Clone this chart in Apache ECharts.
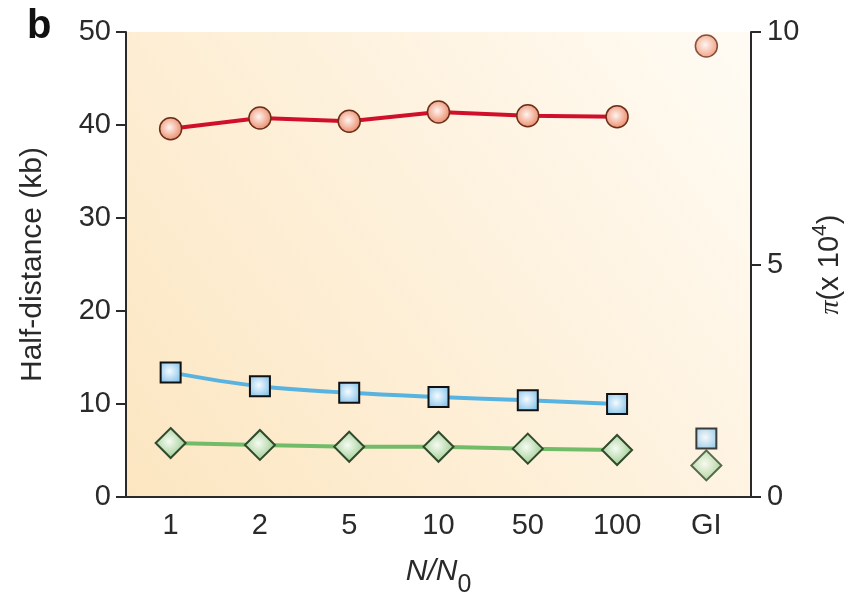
<!DOCTYPE html>
<html><head><meta charset="utf-8">
<script src="https://cdn.jsdelivr.net/npm/echarts@6/dist/echarts.min.js"></script>
<style>html,body{margin:0;padding:0;background:#fff}#c{width:852px;height:593px}</style>
</head><body><div id="c"></div>
<script>
const categories = ['1','2','5','10','50','100','GI'];
const redLine   = [39.6, 40.75, 40.4, 41.4, 41.0, 40.9, '-'];
const redGI     = ['-','-','-','-','-','-', 48.5];
const blueLine  = [13.4, 11.9, 11.2, 10.75, 10.4, 10.0, '-'];
const blueGI    = ['-','-','-','-','-','-', 6.3];
const greenLine = [5.8, 5.6, 5.4, 5.4, 5.2, 5.05, '-'];
const greenGI   = ['-','-','-','-','-','-', 3.4];
const leftTicks = [0, 50, 10];
const rightTicks = [0, 10, 5];

const FONT = 'Liberation Sans, Arial, sans-serif';
const TXT = '#2a2a2a';
const chart = echarts.init(document.getElementById('c'), null, {renderer:'canvas'});
function rg(c0, c1){return {type:'radial',x:0.45,y:0.45,r:0.6,colorStops:[{offset:0,color:c0},{offset:1,color:c1}]};}
const circleStyle = {color: rg('#fff4ee','#e9825f'), borderColor:'#6b2e18', borderWidth:1.5};
const squareStyle = {color: rg('#f4fbff','#86c3ea'), borderColor:'#111', borderWidth:2};
const diamondStyle = {color: rg('#f6fbf2','#93c785'), borderColor:'#2f4a2c', borderWidth:2};
const axisCol = '#2a2a2a';
chart.setOption({
  animation:false,
  title:{text:'b', left:22, top:2, textStyle:{fontFamily:FONT, fontSize:40, fontWeight:900, color:'#111'}},
  grid:{left:126, right:101, top:32, bottom:96, show:true, borderWidth:0, outerBoundsMode:'none', containLabel:false,
    backgroundColor:{type:'linear',x:0,y:1,x2:1,y2:0,colorStops:[{offset:0,color:'#fce6c1'},{offset:1,color:'#fffbf4'}]}},
  xAxis:{type:'category', data:categories, boundaryGap:true,
    axisLine:{lineStyle:{color:axisCol,width:2}},
    axisTick:{alignWithLabel:true, length:10, lineStyle:{color:axisCol,width:2}},
    axisLabel:{fontFamily:FONT, fontSize:29, color:TXT, margin:14},
    name:'{i|N/N}{s|0}', nameLocation:'middle', nameGap:60,
    nameTextStyle:{rich:{
      i:{fontFamily:FONT,fontSize:30,fontStyle:'italic',color:TXT,lineHeight:30,verticalAlign:'top'},
      s:{fontFamily:FONT,fontSize:25,color:TXT,lineHeight:20,padding:[16,0,0,0],verticalAlign:'top'}}}
  },
  yAxis:[
    {type:'value', min:leftTicks[0], max:leftTicks[1], interval:leftTicks[2], position:'left',
     axisLine:{show:true,lineStyle:{color:axisCol,width:2}},
     axisTick:{show:true,length:10,lineStyle:{color:axisCol,width:2}},
     splitLine:{show:false},
     axisLabel:{fontFamily:FONT,fontSize:29,color:TXT,margin:15},
     name:'Half-distance (kb)', nameLocation:'middle', nameGap:78, nameRotate:90,
     nameTextStyle:{fontFamily:FONT,fontSize:30,color:TXT}},
    {type:'value', min:rightTicks[0], max:rightTicks[1], interval:rightTicks[2], position:'right',
     axisLine:{show:true,lineStyle:{color:axisCol,width:2}},
     axisTick:{show:true,length:10,lineStyle:{color:axisCol,width:2}},
     splitLine:{show:false},
     axisLabel:{fontFamily:FONT,fontSize:29,color:TXT,margin:16},
     name:'{p|π}{n|(x 10}{s|4}{n|)}', nameLocation:'middle', nameGap:42, nameRotate:90,
     nameTextStyle:{rich:{
       p:{fontFamily:'Liberation Serif, serif',fontSize:28,fontStyle:'italic',color:TXT,lineHeight:40},
       n:{fontFamily:FONT,fontSize:29,color:TXT,lineHeight:40},
       s:{fontFamily:FONT,fontSize:21,color:TXT,lineHeight:22,verticalAlign:'top'}}}}
  ],
  series:[
    {type:'line', data:redLine, symbol:'circle', symbolSize:22, lineStyle:{color:'#d0102b',width:4}, itemStyle:circleStyle, z:3},
    {type:'scatter', data:redGI, symbol:'circle', symbolSize:22, itemStyle:circleStyle, z:3},
    {type:'line', data:blueLine, smooth:0.4, symbol:'rect', symbolSize:20, lineStyle:{color:'#58b3e0',width:4}, itemStyle:squareStyle, z:3},
    {type:'scatter', data:blueGI, symbol:'rect', symbolSize:20, itemStyle:squareStyle, z:3},
    {type:'line', data:greenLine, symbol:'diamond', symbolSize:30, lineStyle:{color:'#72bb68',width:4}, itemStyle:diamondStyle, z:3},
    {type:'scatter', data:greenGI, symbol:'diamond', symbolSize:30, itemStyle:diamondStyle, z:4}
  ]
});
</script></body></html>
